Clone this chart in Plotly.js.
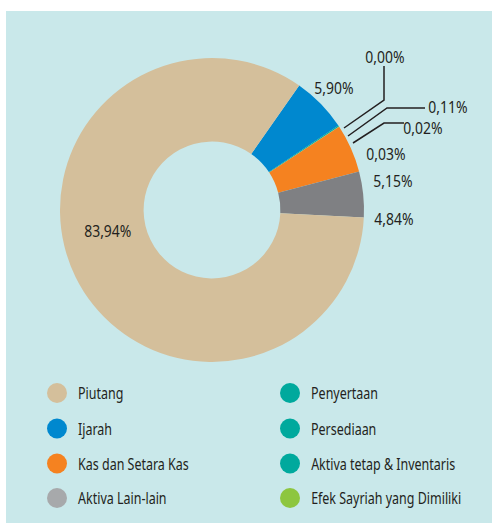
<!DOCTYPE html>
<html><head><meta charset="utf-8">
<script src="https://cdn.plot.ly/plotly-3.0.1.min.js"></script>
<style>html,body{margin:0;padding:0;background:#fff;width:492px;height:523px;overflow:hidden}
#chart{position:absolute;left:6px;top:11px;width:486px;height:512px}</style>
</head><body><div id="chart"></div>
<script>
// Data (clockwise order starting after Piutang)
const categories = ["Ijarah","Penyertaan","Persediaan","Aktiva tetap & Inventaris","Efek Sayriah yang Dimiliki","Kas dan Setara Kas","Aktiva Lain-lain","Piutang"];
const shares = [5.90, 0.00, 0.11, 0.02, 0.03, 5.15, 4.84, 83.94];
const sliceColors = ["#0088cf","#00a99d","#00a99d","#00a99d","#8dc63f","#f58220","#7f8083","#d4bf9b"];
const legendLabels = ["Piutang","Ijarah","Kas dan Setara Kas","Aktiva Lain-lain","Penyertaan","Persediaan","Aktiva tetap & Inventaris","Efek Sayriah yang Dimiliki"];
const legendColors = ["#d4bf9b","#0088cf","#f58220","#a7a9ab","#00a99d","#00a99d","#00a99d","#8dc63f"];

const OX = 6, OY = 11, W = 486, H = 512;
const px = x => (x - OX) / W;
const py = y => 1 - (y - OY) / H;
const FONT = "'Noto Sans', 'DejaVu Sans Condensed', sans-serif";
const TXT = "#231f20";
const fmt = v => v.toFixed(2).replace('.', ',') + '%';

// label anchor positions (image pixels)
const labelPos = {
  "Ijarah": [334, 87],
  "Penyertaan": [385, 56],
  "Persediaan": [448, 106],
  "Aktiva tetap & Inventaris": [423, 127],
  "Efek Sayriah yang Dimiliki": [386, 153],
  "Kas dan Setara Kas": [393, 180],
  "Aktiva Lain-lain": [394, 218],
  "Piutang": [108, 230]
};
const leaders = {
  "Penyertaan": [[344,128],[384,100],[384,66]],
  "Persediaan": [[348,136],[387,108],[425,108]],
  "Aktiva tetap & Inventaris": [[353,143],[384,123],[404,123]]
};

const annotations = [];
const shapes = [];
const squeeze = []; // [scale, origin] per annotation
categories.forEach((c, i) => {
  const p = labelPos[c];
  annotations.push({xref:'paper', yref:'paper', x:px(p[0]), y:py(p[1]), text:fmt(shares[i]),
    showarrow:false, xanchor:'center', yanchor:'middle', font:{family:FONT, size:17, color:TXT}});
  squeeze.push([0.82, 'center']);
  if (leaders[c]) {
    const pts = leaders[c];
    const path = pts.map((q, k) => (k ? 'L ' : 'M ') + px(q[0]) + ',' + py(q[1])).join(' ');
    shapes.push({type:'path', xref:'paper', yref:'paper', path:path, line:{color:TXT, width:1.5}});
  }
});

// custom two-column legend
const colX = [[57, 76], [290, 309]];
const rowY = [393, 428.5, 463.5, 498];
legendLabels.forEach((lab, i) => {
  const col = Math.floor(i / 4), row = i % 4;
  const cx = colX[col][0], tx = colX[col][1], y = rowY[row];
  shapes.push({type:'circle', xref:'paper', yref:'paper', xsizemode:'pixel', ysizemode:'pixel',
    xanchor:px(cx), yanchor:py(y), x0:-10, x1:10, y0:-10, y1:10,
    fillcolor:legendColors[i], line:{width:0}});
  annotations.push({xref:'paper', yref:'paper', x:px(tx), y:py(y), text:lab, showarrow:false,
    xanchor:'left', yanchor:'middle', font:{family:FONT, size:16, color:TXT}});
  squeeze.push([0.78, 'left center']);
});

const trace = {
  type:'pie', labels:categories, values:shares, sort:false, direction:'clockwise',
  rotation:35, hole:0.45, textinfo:'none', hoverinfo:'label+percent',
  marker:{colors:sliceColors, line:{width:0}},
  domain:{x:[px(60), px(364)], y:[py(362), py(58)]},
  showlegend:false
};

Plotly.newPlot('chart', [trace], {
  width:W, height:H, margin:{l:0, r:0, t:0, b:0},
  paper_bgcolor:'#c9e8ea', plot_bgcolor:'#c9e8ea',
  showlegend:false, annotations:annotations, shapes:shapes
}, {displayModeBar:false, staticPlot:true}).then(gd => {
  gd.querySelectorAll('g.annotation').forEach(g => {
    const idx = +g.getAttribute('data-index');
    const t = g.querySelector('text.annotation-text');
    if (!t || !squeeze[idx]) return;
    t.style.transformBox = 'fill-box';
    t.style.transformOrigin = squeeze[idx][1];
    t.style.transform = 'scaleX(' + squeeze[idx][0] + ')';
  });
});
</script></body></html>
